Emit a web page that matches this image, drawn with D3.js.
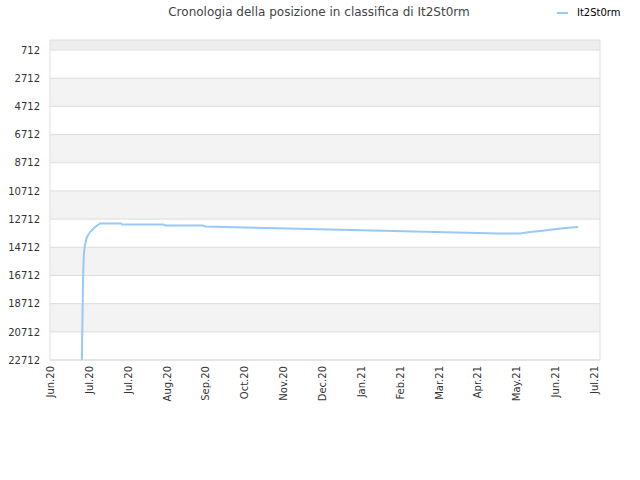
<!DOCTYPE html><html><head><meta charset="utf-8"><script src="https://cdn.jsdelivr.net/npm/d3@7"></script>
<style>body{margin:0;background:#fff}text{font-family:"DejaVu Sans",sans-serif}</style></head><body><svg id="c" width="640" height="480"></svg><script>
const tickLabels=["Jun.20","Jul.20","Jul.20","Aug.20","Sep.20","Oct.20","Nov.20","Dec.20","Jan.21","Feb.21","Mar.21","Apr.21","May.21","Jun.21","Jul.21"];
const yTicks=[712,2712,4712,6712,8712,10712,12712,14712,16712,18712,20712,22712];
// t in month-tick units, rank value
const tVals=[0.82,0.85,0.87,0.9,0.95,1.03,1.16,1.29,1.83,1.86,2.93,2.96,3.94,4.0,5.0,6.12,7.2,8.28,9.38,10.47,11.53,12.11,12.18,12.36,12.61,12.82,13.05,13.26,13.59];
const rank=[22712,16995,15260,14550,13980,13630,13270,13025,13025,13100,13100,13170,13170,13240,13310,13380,13450,13520,13590,13660,13730,13730,13700,13630,13560,13490,13420,13350,13280];
const svg=d3.select("#c");
const L=50,R=600,T=40,B=360;
const x=d3.scaleLinear().domain([0,(R-L)/38.86]).range([L,R]);
const y=d3.scaleLinear().domain([0,22712]).range([T,B]);
svg.append("rect").attr("x",L).attr("y",T).attr("width",R-L).attr("height",y(712)-T).attr("fill","#eeeeee");
for(let i=0;i<yTicks.length-1;i++){svg.append("rect").attr("x",L).attr("y",y(yTicks[i])).attr("width",R-L).attr("height",y(yTicks[i+1])-y(yTicks[i])).attr("fill",i%2?"#f3f3f3":"#ffffff");}
yTicks.forEach(v=>svg.append("line").attr("x1",L).attr("x2",R).attr("y1",y(v)).attr("y2",y(v)).attr("stroke","#dddddd"));
svg.append("rect").attr("x",L).attr("y",T).attr("width",R-L).attr("height",B-T).attr("fill","none").attr("stroke","#dddddd");
const ya=svg.append("g").attr("transform",`translate(${L},0)`).call(d3.axisLeft(y).tickValues(yTicks).tickFormat(d3.format("d")).tickSize(0).tickPadding(10));
ya.select(".domain").remove();ya.selectAll("text").attr("fill","#333").style("font-size","10px");
const xa=svg.append("g").attr("transform",`translate(0,${B})`).call(d3.axisBottom(x).tickValues(d3.range(tickLabels.length)).tickFormat(i=>tickLabels[i]).tickSize(0));
xa.select(".domain").remove();
xa.selectAll("text").attr("fill","#333").style("font-size","10px").attr("text-anchor","end").attr("transform","rotate(-90)").attr("dx","-6").attr("dy","0.35em").attr("y",0).attr("x",0);
svg.append("path").datum(tVals.map((t,i)=>[t,rank[i]])).attr("d",d3.line().x(d=>x(d[0])).y(d=>y(d[1]))).attr("fill","none").attr("stroke","#99c9f5").attr("stroke-width",2);
svg.append("text").attr("x",319).attr("y",16).attr("text-anchor","middle").attr("fill","#444").style("font-size","12px").text("Cronologia della posizione in classifica di It2St0rm");
svg.append("line").attr("x1",557).attr("x2",568).attr("y1",13).attr("y2",13).attr("stroke","#99c9f5").attr("stroke-width",2);
svg.append("text").attr("x",577).attr("y",16).attr("fill","#000").style("font-size","10px").text("It2St0rm");
</script></body></html>
